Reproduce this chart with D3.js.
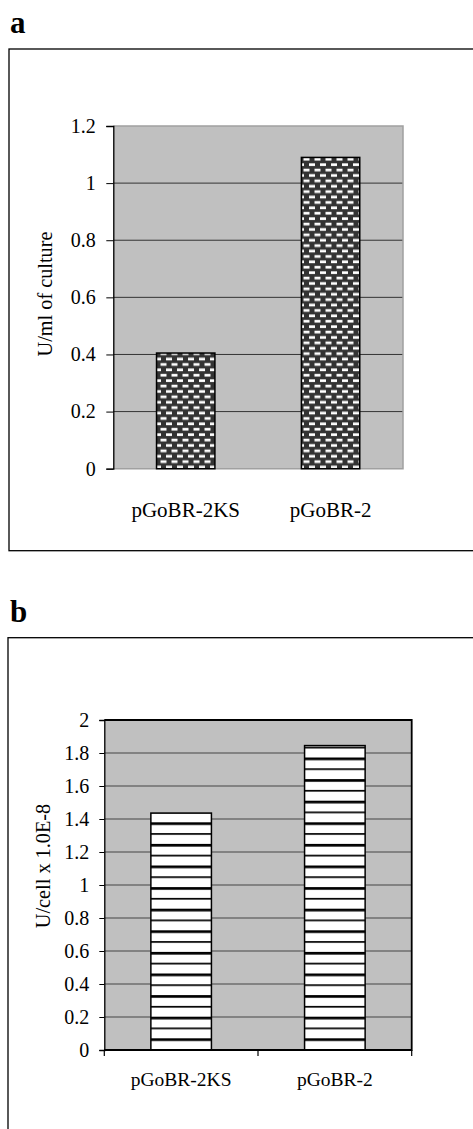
<!DOCTYPE html>
<html>
<head>
<meta charset="utf-8">
<script src="https://cdn.jsdelivr.net/npm/d3@7/dist/d3.min.js"></script>
<style>
  body { margin: 0; background: #fff; }
  svg { display: block; font-family: "Liberation Serif", "Times New Roman", serif; }
</style>
</head>
<body>
<svg id="chart" width="473" height="1129"></svg>
<script>
// data
var categories = ["pGoBR-2KS", "pGoBR-2"];
var valuesA = [0.405, 1.09];      // U/ml of culture
var valuesB = [1.436, 1.845];     // U/cell x 1.0E-8
var ticksA = [0, 0.2, 0.4, 0.6, 0.8, 1, 1.2];
var ticksB = [0, 0.2, 0.4, 0.6, 0.8, 1, 1.2, 1.4, 1.6, 1.8, 2];

var svg = d3.select("#chart");

// fill patterns for the bars
var defs = svg.append("defs");
var brick = defs.append("pattern").attr("id", "brick")
  .attr("patternUnits", "userSpaceOnUse").attr("width", 11).attr("height", 10.8);
brick.append("rect").attr("width", 11).attr("height", 10.8).attr("fill", "#333");
brick.append("rect").attr("x", 1).attr("y", 1.3).attr("width", 6).attr("height", 2.7).attr("fill", "#fff");
brick.append("rect").attr("x", 6.5).attr("y", 6.7).attr("width", 6).attr("height", 2.7).attr("fill", "#fff");
brick.append("rect").attr("x", -4.5).attr("y", 6.7).attr("width", 6).attr("height", 2.7).attr("fill", "#fff");

var hatch = defs.append("pattern").attr("id", "hatch")
  .attr("patternUnits", "userSpaceOnUse").attr("width", 10).attr("height", 21.6)
  .attr("patternTransform", "translate(0,1.5)");
hatch.append("rect").attr("width", 10).attr("height", 21.6).attr("fill", "#fff");
hatch.append("rect").attr("y", 0).attr("width", 10).attr("height", 2.7).attr("fill", "#000");
hatch.append("rect").attr("y", 10.8).attr("width", 10).attr("height", 1.7).attr("fill", "#000");

// outer frames and panel letters
svg.append("rect").attr("x", 9).attr("y", 49).attr("width", 480).attr("height", 501.7)
  .attr("fill", "none").attr("stroke", "#000").attr("stroke-width", 1.3);
svg.append("rect").attr("x", 8).attr("y", 637.7).attr("width", 480).attr("height", 600)
  .attr("fill", "none").attr("stroke", "#000").attr("stroke-width", 1.3);
svg.append("text").attr("x", 10).attr("y", 33.3).attr("font-size", 31).attr("font-weight", "bold").text("a");
svg.append("text").attr("x", 10).attr("y", 621.7).attr("font-size", 31).attr("font-weight", "bold").text("b");

function panel(opt) {
  var x = d3.scaleBand().domain(categories).range([opt.left, opt.right])
    .paddingInner(opt.pad).paddingOuter(opt.pad / 2);
  var y = d3.scaleLinear().domain([0, opt.max]).range([opt.bottom, opt.top]);
  var g = svg.append("g");

  g.append("rect").attr("x", opt.left).attr("y", opt.top)
    .attr("width", opt.right - opt.left).attr("height", opt.bottom - opt.top)
    .attr("fill", "#c0c0c0");

  // gridlines
  g.append("g").selectAll("line").data(opt.ticks.filter(function(d) { return d > 0 && d < opt.max; }))
    .enter().append("line")
    .attr("x1", opt.left).attr("x2", opt.right)
    .attr("y1", function(d) { return y(d); }).attr("y2", function(d) { return y(d); })
    .attr("stroke", opt.grid).attr("stroke-width", 1);

  // frame of plot area
  g.append("path")
    .attr("d", "M" + opt.left + "," + opt.top + "H" + opt.right + "V" + opt.bottom + "H" + opt.left)
    .attr("fill", "none").attr("stroke", opt.border).attr("stroke-width", opt.borderWidth);

  // bars
  g.selectAll(".bar").data(opt.values).enter().append("rect")
    .attr("class", "bar")
    .attr("x", function(d, i) { return x(categories[i]); })
    .attr("y", function(d) { return y(d); })
    .attr("width", x.bandwidth())
    .attr("height", function(d) { return y(0) - y(d); })
    .attr("fill", "url(#" + opt.fill + ")")
    .attr("stroke", "#000").attr("stroke-width", 1.5);

  // y axis
  var ya = g.append("g").attr("transform", "translate(" + opt.left + ",0)")
    .call(d3.axisLeft(y).tickValues(opt.ticks).tickSize(opt.tickSize).tickPadding(opt.tickPad)
      .tickFormat(function(d) { return String(d); }));
  ya.attr("font-family", null).attr("font-size", 20);
  ya.select(".domain").attr("stroke", "#000").attr("stroke-width", 1.3);
  ya.selectAll(".tick line").attr("stroke", "#000");
  ya.selectAll(".tick text").attr("fill", "#000");

  // x axis (ticks only in panel b)
  if (opt.xTicks) {
    var xa = g.append("g").attr("transform", "translate(0," + opt.bottom + ")");
    xa.append("line").attr("x1", opt.left).attr("x2", opt.right)
      .attr("stroke", "#000").attr("stroke-width", 2);
    xa.selectAll(".xt").data([opt.left, (opt.left + opt.right) / 2, opt.right]).enter()
      .append("line").attr("class", "xt")
      .attr("x1", function(d) { return d; }).attr("x2", function(d) { return d; })
      .attr("y1", 0).attr("y2", 6).attr("stroke", "#000").attr("stroke-width", 1.2);
  }

  // category labels
  g.selectAll(".cat").data(categories).enter().append("text")
    .attr("class", "cat")
    .attr("x", function(d) { return x(d) + x.bandwidth() / 2; })
    .attr("y", opt.bottom + opt.catDy)
    .attr("text-anchor", "middle").attr("font-size", opt.catSize).text(function(d) { return d; });

  // axis title
  g.append("text")
    .attr("transform", "translate(" + opt.titleX + "," + opt.titleY + ") rotate(-90)")
    .attr("text-anchor", "middle").attr("font-size", 20.3).text(opt.title);
}

panel({
  left: 113.3, right: 403, top: 126, bottom: 468.7, max: 1.2, pad: 0.597,
  values: valuesA, ticks: ticksA, fill: "brick", grid: "#333",
  border: "#a0a0a0", borderWidth: 1.5, tickSize: 7, tickPad: 10.5, xTicks: false,
  catDy: 48, catSize: 21, title: "U/ml of culture", titleX: 52.3, titleY: 294
});

panel({
  left: 104.3, right: 411.7, top: 720, bottom: 1050, max: 2, pad: 0.606,
  values: valuesB, ticks: ticksB, fill: "hatch", grid: "#444",
  border: "#000", borderWidth: 1.8, tickSize: 5, tickPad: 10, xTicks: true,
  catDy: 36, catSize: 19.5, title: "U/cell x 1.0E-8", titleX: 50, titleY: 866
});
</script>
</body>
</html>
